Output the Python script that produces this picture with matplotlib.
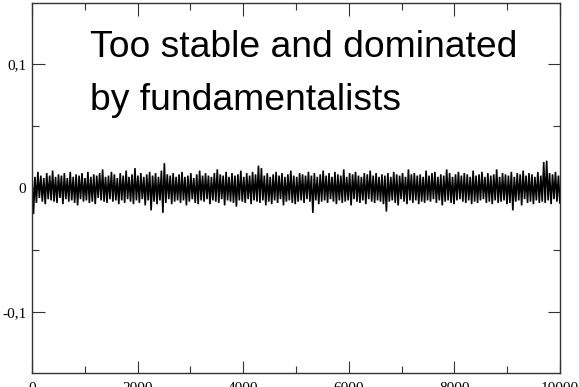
import numpy as np
import matplotlib.pyplot as plt
from matplotlib.ticker import MultipleLocator, FuncFormatter

# price returns, in thousandths (one value per ~28 steps)
returns_milli = [
    11, -21, 9, -12, 13, -8, 10, -11, 8, -13, 12, -9, 10, -10, 14, -11, 9, -12, 11, -8,
    10, -13, 12, -9, 8, -11, 13, -10, 9, -12, 11, -14, 10, -9, 12, -11, 8, -10, 13, -12,
    9, -11, 11, -13, 10, -8, 12, -10, 15, -11, 9, -12, 10, -9, 13, -11, 11, -10, 8, -13,
    12, -10, 10, -12, 14, -9, 9, -11, 11, -13, 16, -10, 10, -12, 12, -9, 9, -14, 11, -10,
    13, -18, 10, -11, 12, -13, 9, -10, 14, -20, 20, -12, 11, -9, 10, -13, 12, -11, 9, -10,
    11, -12, 13, -10, 9, -14, 10, -11, 12, -9, 8, -12, 11, -13, 14, -10, 10, -11, 12, -9,
    10, -13, 9, -10, 12, -11, 15, -12, 11, -9, 10, -14, 13, -10, 9, -11, 12, -12, 10, -15,
    11, -10, 14, -11, 9, -12, 12, -9, 10, -13, 13, -10, 11, -11, 18, -12, 16, -10, 10, -14,
    12, -11, 9, -13, 11, -10, 13, -12, 10, -9, 12, -14, 9, -11, 11, -10, 14, -12, 10, -13,
    9, -11, 12, -10, 11, -12, 10, -9, 13, -11, 10, -20, 12, -10, 9, -13, 11, -11, 14, -10,
    10, -12, 12, -9, 9, -11, 13, -13, 11, -10, 10, -12, 15, -11, 9, -10, 12, -14, 11, -9,
    13, -11, 10, -12, 9, -10, 12, -13, 11, -9, 14, -11, 10, -12, 12, -10, 9, -11, 11, -13,
    10, -19, 12, -11, 9, -10, 13, -12, 11, -14, 10, -9, 12, -11, 9, -13, 15, -10, 11, -12,
    12, -10, 10, -13, 11, -11, 9, -12, 14, -10, 10, -11, 12, -9, 13, -12, 9, -10, 11, -14,
    10, -11, 15, -10, 12, -12, 9, -13, 11, -10, 13, -9, 10, -11, 12, -12, 11, -10, 9, -13,
    14, -11, 10, -12, 11, -10, 13, -9, 9, -12, 12, -11, 10, -13, 11, -10, 15, -12, 9, -11,
    12, -10, 11, -13, 10, -12, 13, -18, 9, -11, 12, -10, 11, -14, 14, -9, 10, -12, 12, -11,
    11, -13, 9, -10, 13, -12, 10, -11, 21, -12, 22, -10, 12, -13, 11, -9, 13, -11, 10, -12,
]
t_max = 10000
y_ticks = [-0.1, 0, 0.1]
title_lines = ["Too stable and dominated", "by fundamentalists"]


def comma_fmt(v, pos):
    if abs(v) < 1e-9:
        return "0"
    return ("%g" % v).replace(".", ",")


def main():
    r = np.array(returns_milli) / 1000.0
    t = np.linspace(0, t_max, len(r))

    fig = plt.figure(figsize=(5.79, 3.87), dpi=100)
    ax = fig.add_axes([0.0553, 0.0362, 0.9117, 0.956])
    ax.plot(t, r, color="black", linewidth=1.2, solid_joinstyle="miter")

    ax.set_xlim(0, t_max)
    ax.set_ylim(-0.149, 0.149)
    ax.xaxis.set_major_locator(MultipleLocator(2000))
    ax.xaxis.set_minor_locator(MultipleLocator(1000))
    ax.set_yticks(y_ticks)
    ax.yaxis.set_minor_locator(MultipleLocator(0.05))
    ax.yaxis.set_major_formatter(FuncFormatter(comma_fmt))

    ax.tick_params(which="both", direction="in", top=True, right=True,
                   color="#333333", width=0.8)
    ax.tick_params(which="major", length=9, labelsize=11)
    ax.tick_params(axis="y", which="major", pad=4)
    ax.tick_params(axis="x", which="major", pad=6.5)
    ax.tick_params(which="minor", length=5)
    for lab in ax.get_xticklabels() + ax.get_yticklabels():
        lab.set_family("Liberation Serif")
    for s in ax.spines.values():
        s.set_color("#333333")
        s.set_linewidth(1.0)

    ax.text(0.11, 0.854, title_lines[0], transform=ax.transAxes,
            fontsize=26.8, family="Liberation Sans", va="baseline")
    ax.text(0.11, 0.711, title_lines[1], transform=ax.transAxes,
            fontsize=26.8, family="Liberation Sans", va="baseline")

    fig.savefig("out.png", dpi=100)


if __name__ == "__main__":
    main()
